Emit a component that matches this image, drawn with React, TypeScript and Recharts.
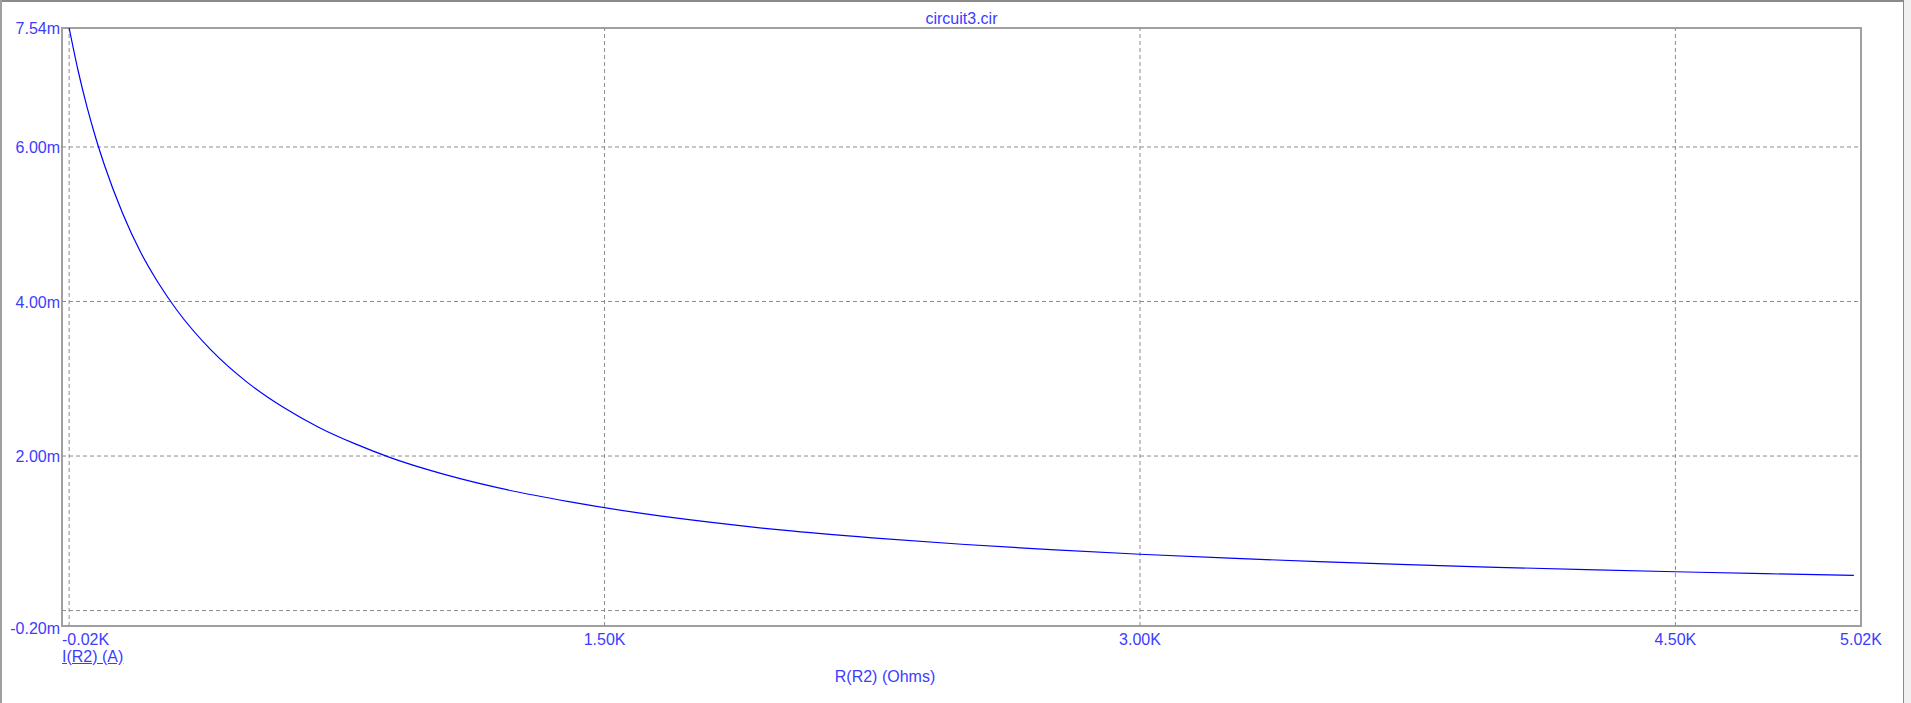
import React from 'react';
import { LineChart, Line, XAxis, YAxis, ReferenceLine, ReferenceArea } from 'recharts';

// R(R2) in Ohms
const resistance = [0, 25, 50, 75, 100, 150, 200, 250, 300, 400, 500, 600, 700, 800, 900, 1000, 1200, 1400, 1600, 1800, 2000, 2250, 2500, 2750, 3000, 3250, 3500, 3750, 4000, 4250, 4500, 4750, 5000];
// I(R2) in mA
const current = [7.54, 6.99, 6.52, 6.11, 5.75, 5.14, 4.64, 4.24, 3.9, 3.36, 2.95, 2.63, 2.37, 2.16, 1.98, 1.83, 1.59, 1.41, 1.26, 1.14, 1.04, 0.941, 0.858, 0.788, 0.729, 0.678, 0.633, 0.594, 0.56, 0.529, 0.502, 0.477, 0.455];

const xTicks = [-20, 1500, 3000, 4500, 5020];
const xTickLabels = ['-0.02K', '1.50K', '3.00K', '4.50K', '5.02K'];
const yTicks = [-0.2, 2, 4, 6, 7.54];
const yTickLabels = ['-0.20m', '2.00m', '4.00m', '6.00m', '7.54m'];
const gridX = [0, 1500, 3000, 4500];
const gridY = [0, 2, 4, 6];
const xDomain = [-20, 5020];
const yDomain = [-0.2, 7.54];

const title = 'circuit3.cir';
const legendText = 'I(R2) (A)';
const xAxisTitle = 'R(R2) (Ohms)';

const data = resistance.map((r, i) => ({ r, i: current[i] }));

const TEXT = '#3c3cff';
const FONT = '"Liberation Sans", Arial, sans-serif';

const XTick = (props: any) => {
  const { x, y, payload, index } = props;
  const idx = xTicks.indexOf(payload.value);
  return (
    <text x={x} y={y} dy={19} textAnchor={index === 0 ? 'start' : 'middle'} fill={TEXT} fontSize={16} fontFamily={FONT}>
      {xTickLabels[idx]}
    </text>
  );
};

const YTick = (props: any) => {
  const { x, y, payload } = props;
  const idx = yTicks.indexOf(payload.value);
  const extra = payload.value === yDomain[0] ? 2 : 0;
  return (
    <text x={x} y={y} dy={6 + extra} textAnchor="end" fill={TEXT} fontSize={16} fontFamily={FONT}>
      {yTickLabels[idx]}
    </text>
  );
};

export default function App() {
  return (
    <div style={{ position: 'absolute', left: 0, top: 0, width: 1911, height: 703, background: '#fff', fontFamily: FONT, overflow: 'hidden' }}>
      {/* window frame */}
      <div style={{ position: 'absolute', left: 0, top: 0, width: 1904, height: 2, background: '#8a8a8a' }} />
      <div style={{ position: 'absolute', left: 0, top: 0, width: 2, height: 703, background: '#a0a0a0' }} />
      <div style={{ position: 'absolute', left: 1903, top: 0, width: 1, height: 703, background: '#8a8a8a' }} />
      <div style={{ position: 'absolute', left: 1904, top: 0, width: 7, height: 703, background: '#f0f0f0' }} />

      <LineChart width={1911} height={703} data={data} margin={{ top: 28, right: 50, bottom: 0, left: 2 }}>
        <XAxis
          dataKey="r"
          type="number"
          domain={xDomain}
          ticks={xTicks}
          allowDataOverflow
          axisLine={false}
          tickLine={false}
          tickSize={0}
          tickMargin={0}
          height={77}
          interval={0}
          tick={<XTick />}
        />
        <YAxis
          type="number"
          domain={yDomain}
          ticks={yTicks}
          allowDataOverflow
          axisLine={false}
          tickLine={false}
          tickSize={0}
          tickMargin={2}
          width={60}
          interval={0}
          tick={<YTick />}
        />
        {gridY.map((v) => (
          <ReferenceLine key={'gy' + v} y={v} stroke="#8c8c8c" strokeDasharray="4 3" strokeWidth={1} />
        ))}
        {gridX.map((v) => (
          <ReferenceLine key={'gx' + v} x={v} stroke="#8c8c8c" strokeDasharray="4 3" strokeWidth={1} />
        ))}
        <ReferenceArea x1={xDomain[0]} x2={xDomain[1]} y1={yDomain[0]} y2={yDomain[1]} fill="none" stroke="#a0a0a0" strokeWidth={2} />
        <Line dataKey="i" type="monotone" stroke="#0000ff" strokeWidth={1.2} dot={false} isAnimationActive={false} />
      </LineChart>

      <div style={{ position: 'absolute', left: 0, width: 1923, top: 10, textAlign: 'center', color: TEXT, fontSize: 16, lineHeight: '18px' }}>{title}</div>
      <div style={{ position: 'absolute', left: 62, top: 648, color: TEXT, fontSize: 16, lineHeight: '18px', textDecoration: 'underline' }}>{legendText}</div>
      <div style={{ position: 'absolute', left: 0, width: 1770, top: 668, textAlign: 'center', color: TEXT, fontSize: 16, lineHeight: '18px' }}>{xAxisTitle}</div>
    </div>
  );
}
